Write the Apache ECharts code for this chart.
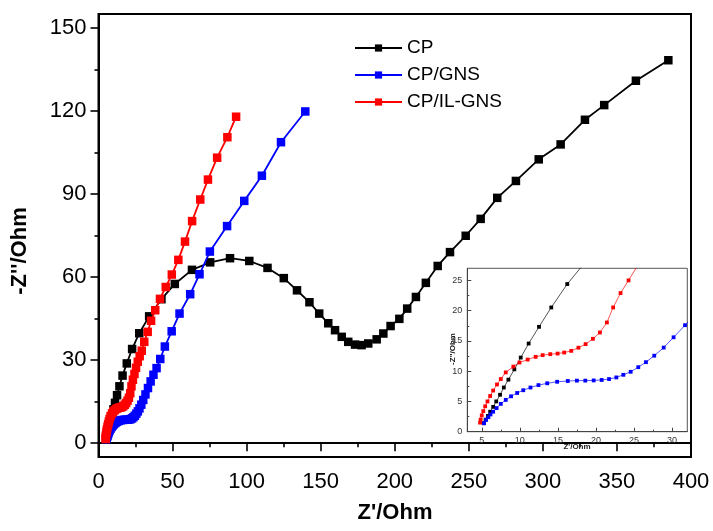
<!DOCTYPE html>
<html>
<head>
<meta charset="utf-8">
<script src="https://cdn.jsdelivr.net/npm/echarts@6/dist/echarts.min.js"></script>
<style>
html,body{margin:0;padding:0;background:#fff;}
#chart{width:713px;height:531px;}
</style>
</head>
<body>
<div id="chart"></div>
<script>
// ---- Data (Z'/Ohm, -Z''/Ohm) ----
var cpData = [
  [5.25,1.4],[5.5,2.0],[5.8,2.6],[6.1,3.3],[6.5,4.1],[6.9,5.0],[7.4,6.1],[7.9,7.3],[8.5,8.6],
  [9.28,10.3],[10.12,12.25],[11.16,14.57],[12.52,17.33],[14.13,20.53],[16.23,24.4],
  [19.1,28.8],[22.7,34],[27.5,39.7],[34.2,45.8],[42.5,52],[51.5,57.5],[63.1,62.6],[75.4,65.3],
  [88.8,66.8],[101.8,65.8],[114.1,63.3],[125.1,59.6],[134,55.2],[142.4,50.9],[149,46.8],
  [155.1,43.3],[159.7,40.8],[164.2,38.4],[168.6,36.6],[173.2,35.6],[177.6,35.4],[182.1,36],
  [187.8,37.5],[192.3,39.6],[197.2,42.3],[203.1,44.9],[208.4,48.6],[214.3,52.8],[221,57.9],
  [229,64],[237.3,69],[247.9,74.9],[258,81],[269.2,88.6],[281.8,94.7],[297.2,102.5],
  [312,107.9],[328.4,116.8],[341.4,122.1],[362.8,130.9],[384.7,138.3]
];
var gnsData = [
  [5.3,1.4],[5.57,1.95],[5.87,2.4],[6.15,2.85],[6.5,3.3],[6.95,3.9],[7.5,4.6],[8.15,5.25],
  [8.85,5.85],[9.65,6.4],[10.45,6.85],[11.4,7.3],[12.45,7.7],[13.6,8.0],[14.9,8.25],
  [16.3,8.38],[17.5,8.44],[18.6,8.44],[19.7,8.47],[20.75,8.55],[21.72,8.7],[22.68,8.97],
  [23.6,9.4],[24.56,9.9],[25.56,10.66],[26.57,11.49],[27.66,12.56],[28.9,13.9],[30.2,15.6],
  [31.7,17.6],[33.4,19.9],[35.2,22.3],[37.1,24.7],[39.2,27.1],[41.7,30.4],[44.8,34.9],
  [49.4,40.4],[54.7,46.8],[61.9,53.8],[68.2,61],[75.2,69.2],[86.8,78.4],[98.4,87.5],
  [110.3,96.6],[123.2,108.7],[139.6,119.8]
];
var ilData = [
  [4.78,1.5],[4.85,2.0],[5.0,2.7],[5.2,3.4],[5.45,4.2],[5.75,5.0],[6.1,5.9],[6.5,6.8],
  [7.0,7.8],[7.5,8.7],[8.15,9.8],[9.15,10.76],[9.95,11.43],[11.03,11.92],[12.08,12.37],
  [13.0,12.65],[14.0,12.81],[14.96,12.91],[15.83,13.08],[16.75,13.36],[17.7,13.88],
  [18.64,14.47],[19.6,15.35],[20.52,16.39],[21.44,18.05],[22.26,20.53],[23.23,22.91],
  [24.28,25.0],[25.35,27.2],[26.5,29.4],[27.8,31.4],[29.2,33.4],[30.9,36.6],[33.2,40.2],
  [35.5,44.2],[38.3,48],[41.5,52.1],[45.4,56.4],[49.5,60.9],[53.9,66.2],[58.4,72.8],
  [63.2,80.2],[68.7,88],[73.9,95.2],[80.1,103.1],[87,110.5],[92.9,117.9]
];
var seriesNames = ['CP', 'CP/GNS', 'CP/IL-GNS'];
var seriesColors = ['#000000', '#0000ff', '#ff0000'];

var mainYTicks = [0, 30, 60, 90, 120, 150];
var mainYMinor = [15, 45, 75, 105, 135];
var insetXTicks = [5, 10, 15, 20, 25, 30];
var insetXMinor = [7.5, 12.5, 17.5, 22.5, 27.5];
var insetYTicks = [0, 5, 10, 15, 20, 25];
var insetYMinor = [2.5, 7.5, 12.5, 17.5, 22.5];

var xTitle = "Z'/Ohm";
var yTitle = "-Z''/Ohm";

// ---- Chart ----
var FONT = 'Liberation Sans, Arial, sans-serif';
var chart = echarts.init(document.getElementById('chart'), null, {renderer: 'canvas'});
var allData = [cpData, gnsData, ilData];

var series = [];
allData.forEach(function (d, i) {
  series.push({
    name: seriesNames[i], type: 'line', xAxisIndex: 0, yAxisIndex: 0,
    data: d, symbol: 'rect', symbolSize: 8.5, showSymbol: true,
    lineStyle: {color: seriesColors[i], width: 1.8},
    itemStyle: {color: seriesColors[i]},
    z: 3 + i, animation: false, clip: true
  });
});
allData.forEach(function (d, i) {
  series.push({
    name: seriesNames[i] + ' inset', type: 'line', xAxisIndex: 2, yAxisIndex: 2,
    data: d, symbol: 'rect', symbolSize: 3.8, showSymbol: true,
    lineStyle: {color: seriesColors[i], width: 0.9, opacity: 0.75},
    itemStyle: {color: seriesColors[i]},
    z: 10 + i, animation: false, clip: true
  });
});

var option = {
  animation: false,
  backgroundColor: '#ffffff',
  textStyle: {fontFamily: FONT},
  legend: {
    data: seriesNames,
    orient: 'vertical',
    left: 349, top: 33,
    itemWidth: 47, itemHeight: 9, itemGap: 7,
    textStyle: {fontSize: 19, color: '#000', fontFamily: FONT, lineHeight: 20},
    selectedMode: false
  },
  grid: [
    {left: 98.5, top: 14, width: 592.5, height: 443, show: true,
     borderColor: '#000', borderWidth: 2, backgroundColor: 'transparent'},
    {left: 467.3, top: 268.3, width: 220, height: 163.4, show: true,
     borderColor: '#555', borderWidth: 1, backgroundColor: '#fff'}
  ],
  xAxis: [
    {gridIndex: 0, type: 'value', position: 'bottom', min: 0, max: 400, interval: 50,
     axisLine: {show: true, lineStyle: {color: '#000', width: 2}},
     axisTick: {show: true, inside: false, length: 8, lineStyle: {color: '#000', width: 1.6}},
     minorTick: {show: true, splitNumber: 2, length: 4, lineStyle: {color: '#000', width: 1.6}},
     axisLabel: {fontSize: 22, color: '#000', margin: 14, fontFamily: FONT},
     splitLine: {show: false}},
    {gridIndex: 1, type: 'value', position: 'bottom', min: 3.1, max: 32,
     axisLine: {show: true, lineStyle: {color: '#444', width: 1}},
     axisTick: {show: true, inside: true, length: 4, customValues: insetXTicks, lineStyle: {color: '#444', width: 1}},
     axisLabel: {show: true, customValues: insetXTicks, fontSize: 9, color: '#333', margin: 4, fontFamily: FONT},
     splitLine: {show: false}},
    {gridIndex: 1, type: 'value', position: 'bottom', offset: 0, min: 3.1, max: 32,
     axisLine: {show: false},
     axisTick: {show: true, inside: true, length: 2, customValues: insetXMinor, lineStyle: {color: '#444', width: 1}},
     axisLabel: {show: false},
     splitLine: {show: false}}
  ],
  yAxis: [
    {gridIndex: 0, type: 'value', position: 'left', min: -5, max: 155,
     axisLine: {show: true, lineStyle: {color: '#000', width: 2}},
     axisTick: {show: true, inside: false, length: 8, customValues: mainYTicks, lineStyle: {color: '#000', width: 1.6}},
     axisLabel: {show: true, customValues: mainYTicks, fontSize: 22, color: '#000', margin: 12, fontFamily: FONT},
     splitLine: {show: false}},
    {gridIndex: 0, type: 'value', position: 'left', offset: 0, min: -5, max: 155,
     axisLine: {show: false},
     axisTick: {show: true, inside: false, length: 4, customValues: mainYMinor, lineStyle: {color: '#000', width: 1.6}},
     axisLabel: {show: false},
     splitLine: {show: false}},
    {gridIndex: 1, type: 'value', position: 'left', min: 0, max: 27,
     axisLine: {show: true, lineStyle: {color: '#444', width: 1}},
     axisTick: {show: true, inside: true, length: 4, customValues: insetYTicks, lineStyle: {color: '#444', width: 1}},
     axisLabel: {show: true, customValues: insetYTicks, fontSize: 9, color: '#333', margin: 5, fontFamily: FONT},
     splitLine: {show: false}},
    {gridIndex: 1, type: 'value', position: 'left', offset: 0, min: 0, max: 27,
     axisLine: {show: false},
     axisTick: {show: true, inside: true, length: 2, customValues: insetYMinor, lineStyle: {color: '#444', width: 1}},
     axisLabel: {show: false},
     splitLine: {show: false}}
  ],
  graphic: [
    {type: 'text', x: 395, y: 513, z: 50,
     style: {text: xTitle, font: 'bold 22px ' + FONT, fill: '#000', textAlign: 'center', textVerticalAlign: 'middle'}},
    {type: 'text', x: 20, y: 251, rotation: Math.PI / 2, z: 50,
     style: {text: yTitle, font: 'bold 22px ' + FONT, fill: '#000', textAlign: 'center', textVerticalAlign: 'middle'}},
    {type: 'text', x: 577, y: 447, z: 50,
     style: {text: xTitle, font: 'bold 8px ' + FONT, fill: '#222', textAlign: 'center', textVerticalAlign: 'middle'}},
    {type: 'text', x: 453, y: 349, rotation: Math.PI / 2, z: 50,
     style: {text: yTitle, font: 'bold 8px ' + FONT, fill: '#222', textAlign: 'center', textVerticalAlign: 'middle'}}
  ],
  series: series
};
chart.setOption(option);
</script>
</body>
</html>
